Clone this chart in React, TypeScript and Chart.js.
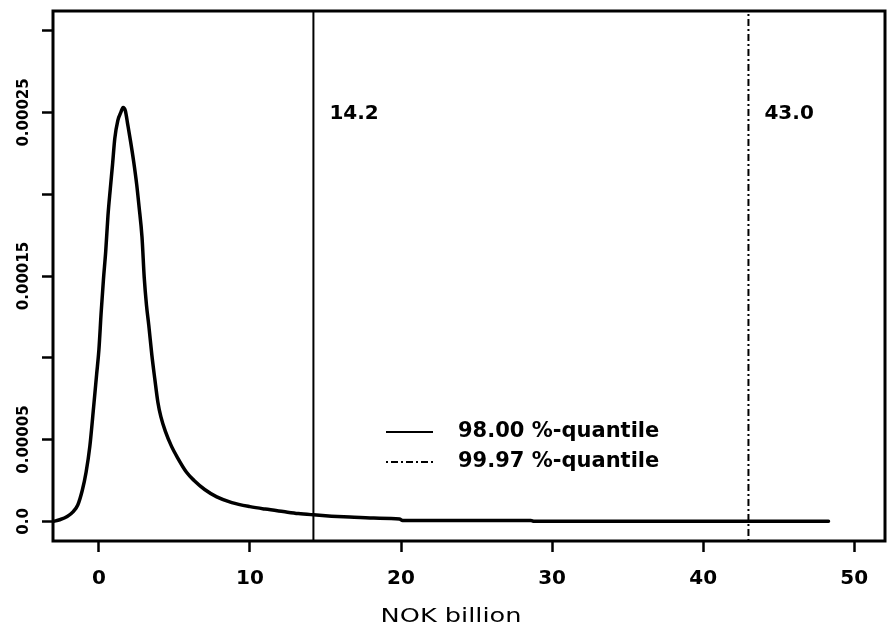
import { useEffect, useRef } from "react";
import { Chart, registerables } from "chart.js";

Chart.register(...registerables);

const FONT = '"DejaVu Sans", Verdana, sans-serif';

// Density curve (x in NOK billion, y density)
const densityX = [
  -3.0, -2.6, -2.1, -1.7, -1.4, -1.1, -0.85, -0.6, -0.35, -0.15, 0.0, 0.15, 0.3, 0.45, 0.6, 0.75,
  0.9, 1.05, 1.25, 1.45, 1.6, 1.75, 1.9, 2.1, 2.3, 2.5, 2.65, 2.85, 3.0, 3.15, 3.3, 3.5, 3.7, 3.9,
  4.1, 4.4, 4.8, 5.2, 5.8, 6.3, 7.0, 7.8, 8.8, 10.0, 11.0, 12.2, 13.2, 14.2, 15.4, 16.6, 18.2,
  19.9, 20.1, 28.6, 28.8, 48.3,
];
const densityY = [
  0.0e-5, 0.1e-5, 0.3e-5, 0.6e-5, 1.0e-5, 1.9e-5, 3.0e-5, 4.6e-5, 7.0e-5, 9.0e-5, 10.5e-5, 12.8e-5,
  14.8e-5, 16.5e-5, 18.7e-5, 20.3e-5, 21.8e-5, 23.4e-5, 24.5e-5, 25.0e-5, 25.3e-5, 25.1e-5, 24.3e-5,
  23.2e-5, 22.0e-5, 20.6e-5, 19.3e-5, 17.4e-5, 14.9e-5, 13.2e-5, 12.0e-5, 10.2e-5, 8.7e-5, 7.3e-5,
  6.4e-5, 5.5e-5, 4.6e-5, 3.9e-5, 3.0e-5, 2.5e-5, 1.95e-5, 1.5e-5, 1.15e-5, 0.9e-5, 0.75e-5, 0.6e-5,
  0.48e-5, 0.4e-5, 0.32e-5, 0.26e-5, 0.2e-5, 0.14e-5, 0.06e-5, 0.05e-5, 0.0e-5, 0.0e-5,
];

// Quantiles
const quantileValues = [14.2, 43.0];
const quantileLabels = ["14.2", "43.0"];
const legendLabels = ["98.00 %-quantile", "99.97 %-quantile"];
const quantileLabelY = 0.00025;

// Axes
const xMin = -3.04;
const xMax = 52.04;
const yMin = -0.000012;
const yMax = 0.000312;
const xTickValues = [0, 10, 20, 30, 40, 50];
const xTickLabels = ["0", "10", "20", "30", "40", "50"];
const yTickValues = [0, 0.00005, 0.0001, 0.00015, 0.0002, 0.00025, 0.0003];
const yTickLabels = ["0.0", "0.00005", "", "0.00015", "", "0.00025", ""];
const xTitle = "NOK billion";

const DOTDASH = [2, 3, 7, 3];

export default function App() {
  const ref = useRef<HTMLCanvasElement>(null);

  useEffect(() => {
    const canvas = ref.current!;
    const overlay = {
      id: "overlay",
      afterDraw(chart: any) {
        const { ctx, chartArea } = chart;
        const xs = chart.scales.x;
        const ys = chart.scales.y;
        ctx.save();
        // box
        ctx.strokeStyle = "#000";
        ctx.lineWidth = 3;
        ctx.setLineDash([]);
        ctx.strokeRect(chartArea.left, chartArea.top, chartArea.right - chartArea.left, chartArea.bottom - chartArea.top);
        // quantile labels
        ctx.fillStyle = "#000";
        ctx.font = `bold 20px ${FONT}`;
        ctx.textAlign = "left";
        ctx.textBaseline = "middle";
        quantileValues.forEach((q, i) => {
          ctx.fillText(quantileLabels[i], xs.getPixelForValue(q) + 16, ys.getPixelForValue(quantileLabelY) + 1);
        });
        // legend
        const lx0 = 386;
        const lx1 = 433;
        const rows = [432, 462];
        ctx.font = `bold 21px ${FONT}`;
        legendLabels.forEach((lab, i) => {
          ctx.beginPath();
          ctx.lineWidth = 2;
          ctx.setLineDash(i === 0 ? [] : DOTDASH);
          ctx.moveTo(lx0, rows[i]);
          ctx.lineTo(lx1, rows[i]);
          ctx.stroke();
          ctx.setLineDash([]);
          ctx.fillText(lab, 458, rows[i]);
        });
        // x title (wide face in the original)
        ctx.font = `20px ${FONT}`;
        ctx.textAlign = "center";
        ctx.translate(451, 617);
        ctx.scale(1.28, 1);
        ctx.fillText(xTitle, 0, 0);
        ctx.restore();
      },
    };

    const chart = new Chart(canvas, {
      type: "line",
      data: {
        datasets: [
          {
            data: densityX.map((x, i) => ({ x, y: densityY[i] })),
            borderColor: "#000",
            borderWidth: 3.5,
            pointRadius: 0,
            cubicInterpolationMode: "monotone",
            borderJoinStyle: "round",
            borderCapStyle: "round",
            fill: false,
          },
          {
            data: [
              { x: quantileValues[0], y: yMin },
              { x: quantileValues[0], y: yMax },
            ],
            borderColor: "#000",
            borderWidth: 2,
            pointRadius: 0,
            tension: 0,
            fill: false,
          },
          {
            data: [
              { x: quantileValues[1], y: yMin },
              { x: quantileValues[1], y: yMax },
            ],
            borderColor: "#000",
            borderWidth: 2,
            borderDash: DOTDASH,
            pointRadius: 0,
            tension: 0,
            fill: false,
          },
        ],
      } as any,
      options: {
        animation: false,
        responsive: false,
        devicePixelRatio: 1,
        layout: { padding: { top: 11, right: 5, left: 0, bottom: 0 } },
        plugins: { legend: { display: false }, tooltip: { enabled: false } },
        scales: {
          x: {
            type: "linear",
            min: xMin,
            max: xMax,
            afterBuildTicks: (s: any) => {
              s.ticks = xTickValues.map((v) => ({ value: v }));
            },
            afterFit: (s: any) => {
              s.height = 89;
            },
            ticks: {
              callback: (v: any) => {
                const i = xTickValues.indexOf(Number(v));
                return i >= 0 ? xTickLabels[i] : "";
              },
              font: { family: FONT, size: 20, weight: "bold" },
              color: "#000",
              padding: 15,
              maxRotation: 0,
              minRotation: 0,
            },
            grid: { drawOnChartArea: false, drawTicks: true, tickLength: 11, tickWidth: 2.5, tickColor: "#000" },
            border: { display: false },
            title: { display: false },
          },
          y: {
            type: "linear",
            min: yMin,
            max: yMax,
            afterBuildTicks: (s: any) => {
              s.ticks = yTickValues.map((v) => ({ value: v }));
            },
            afterFit: (s: any) => {
              s.width = 53;
            },
            ticks: {
              callback: (v: any) => {
                const i = yTickValues.findIndex((t) => Math.abs(t - Number(v)) < 1e-9);
                return i >= 0 ? yTickLabels[i] : "";
              },
              font: { family: FONT, size: 15, weight: "bold" },
              color: "#000",
              minRotation: 90,
              maxRotation: 90,
              crossAlign: "center",
              padding: -16,
            },
            grid: { drawOnChartArea: false, drawTicks: true, tickLength: 11, tickWidth: 2.5, tickColor: "#000" },
            border: { display: false },
          },
        },
      } as any,
      plugins: [overlay],
    });
    return () => chart.destroy();
  }, []);

  return (
    <div style={{ position: "absolute", left: 0, top: 0, width: 890, height: 630, background: "#fff" }}>
      <canvas ref={ref} width={890} height={630} style={{ display: "block" }} />
    </div>
  );
}
